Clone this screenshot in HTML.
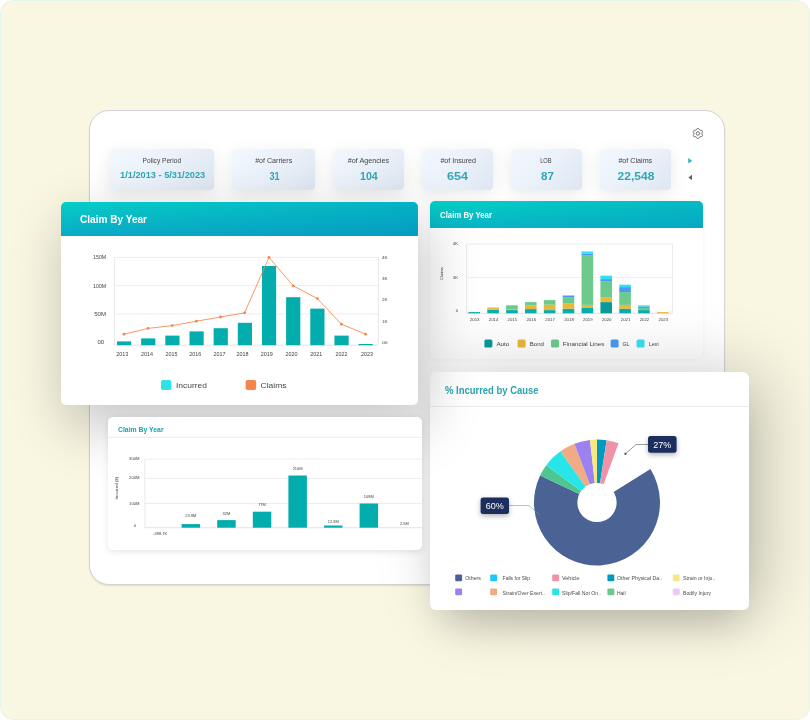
<!DOCTYPE html>
<html lang="en"><head><meta charset="utf-8"><title>Claims dashboard</title>
<style>
html,body{margin:0;padding:0}
body{width:810px;height:720px;background:#fff;overflow:hidden;position:relative;font-family:"Liberation Sans", sans-serif}
.bg{position:absolute;left:0;top:0;width:808px;height:718px;border:1px solid #e4f5ee;border-radius:13px;background:#f9f6e2}
.panel{position:absolute;left:89px;top:110px;width:633.6px;height:472.6px;border:1px solid #d3d3d5;box-shadow:0 1px 1.5px rgba(0,0,0,.10);border-radius:20px;background:#fff;overflow:hidden}
.in{position:absolute;left:-90px;top:-111px;width:810px;height:720px}
.s{position:absolute;left:0;top:0;overflow:visible}
.s text{font-family:"Liberation Sans", sans-serif}
.stat{position:absolute;top:149.3px;height:40.5px;border-radius:4px;background:linear-gradient(135deg,#f3f8fe 0%,#eaf1fa 50%,#dee6f2 100%);box-shadow:0 4px 16px rgba(0,0,0,.09)}
.card{position:absolute;background:#fff;overflow:hidden}
.hd{position:absolute;left:0;top:0;right:0;background:linear-gradient(to right,rgba(2,128,186,0) 0%,rgba(2,128,186,.36) 100%),linear-gradient(180deg,#05cec7 0%,#0aaac6 100%)}
#c1{left:61px;top:202px;width:357px;height:203px;border-radius:5px;box-shadow:6px 20px 56px 1px rgba(0,0,0,.235)}
#c1 .hd{height:34.2px}
#c2{left:430px;top:201.4px;width:273.4px;height:158px;border-radius:5px;box-shadow:0 0 5px rgba(0,0,0,.05)}
#c2 .hd{height:26.6px;background:linear-gradient(to right,rgba(2,128,186,0) 0%,rgba(2,128,186,.28) 100%),linear-gradient(180deg,#04d1c5 0%,#09b6c6 100%)}
#c3{left:108.4px;top:417.2px;width:313.6px;height:132.8px;border-radius:5px;box-shadow:0 1.5px 6px rgba(0,0,0,.10)}
#c4{left:430px;top:372px;width:319px;height:238px;border-radius:6px;box-shadow:16px 0 70px rgba(0,0,0,.20),2px 22px 36px -10px rgba(0,0,0,.17)}
.sh{position:absolute;border-radius:6px;background:transparent}
</style></head>
<body>
<div class="bg"></div>
<div class="panel"><div class="in">
<div class="stat" style="left:110px;width:104.0px"></div>
<div class="stat" style="left:231.6px;width:83.6px"></div>
<div class="stat" style="left:333px;width:71.0px"></div>
<div class="stat" style="left:422px;width:71.0px"></div>
<div class="stat" style="left:511px;width:71.0px"></div>
<div class="stat" style="left:600px;width:71.0px"></div>
<svg class="s" width="810" height="720" viewBox="0 0 810 720">
<text x="142.6" y="163.0" font-size="6.5" fill="#444" textLength="38.5" lengthAdjust="spacingAndGlyphs">Policy Period</text>
<text x="120.1" y="178.1" font-size="9.6" fill="#30a8b3" font-weight="700" textLength="85.1" lengthAdjust="spacingAndGlyphs">1/1/2013 - 5/31/2023</text>
<text x="255.2" y="163.0" font-size="6.5" fill="#444" textLength="37.0" lengthAdjust="spacingAndGlyphs">#of Carriers</text>
<text x="269.4" y="179.8" font-size="11.3" fill="#30a8b3" font-weight="700" textLength="10.2" lengthAdjust="spacingAndGlyphs">31</text>
<text x="347.8" y="163.0" font-size="6.5" fill="#444" textLength="41.3" lengthAdjust="spacingAndGlyphs">#of Agencies</text>
<text x="360" y="179.8" font-size="11.3" fill="#30a8b3" font-weight="700" textLength="17.8" lengthAdjust="spacingAndGlyphs">104</text>
<text x="440.4" y="163.0" font-size="6.5" fill="#444" textLength="35.6" lengthAdjust="spacingAndGlyphs">#of Insured</text>
<text x="447" y="179.8" font-size="11.3" fill="#30a8b3" font-weight="700" textLength="21" lengthAdjust="spacingAndGlyphs">654</text>
<text x="540.2" y="163.0" font-size="6.5" fill="#444" textLength="11.4" lengthAdjust="spacingAndGlyphs">LOB</text>
<text x="541.1" y="179.8" font-size="11.3" fill="#30a8b3" font-weight="700" textLength="13.0" lengthAdjust="spacingAndGlyphs">87</text>
<text x="618.4" y="163.0" font-size="6.5" fill="#444" textLength="33.8" lengthAdjust="spacingAndGlyphs">#of Claims</text>
<text x="617.6" y="179.8" font-size="11.3" fill="#30a8b3" font-weight="700" textLength="36.8" lengthAdjust="spacingAndGlyphs">22,548</text>
<polygon points="697.90,128.50 697.99,128.50 698.07,128.50 698.16,128.51 698.25,128.51 698.34,128.52 698.42,128.53 698.51,128.54 698.60,128.55 698.68,128.59 698.75,128.67 698.82,128.76 698.89,128.86 698.95,128.95 699.01,129.05 699.06,129.15 699.12,129.25 699.17,129.36 699.21,129.46 699.26,129.55 699.30,129.65 699.34,129.74 699.40,129.79 699.46,129.82 699.53,129.85 699.59,129.87 699.65,129.90 699.72,129.94 699.78,129.97 699.84,130.00 699.90,130.04 699.96,130.07 700.02,130.11 700.08,130.15 700.14,130.18 700.19,130.22 700.25,130.26 700.31,130.31 700.36,130.35 700.44,130.37 700.54,130.36 700.64,130.35 700.75,130.34 700.86,130.33 700.97,130.32 701.08,130.32 701.20,130.32 701.31,130.32 701.43,130.32 701.54,130.33 701.65,130.35 701.76,130.37 701.84,130.42 701.89,130.49 701.95,130.56 702.00,130.63 702.05,130.70 702.09,130.78 702.14,130.85 702.19,130.92 702.23,131.00 702.27,131.08 702.31,131.15 702.36,131.23 702.39,131.31 702.43,131.39 702.47,131.47 702.50,131.55 702.54,131.63 702.54,131.72 702.50,131.82 702.46,131.93 702.41,132.03 702.36,132.14 702.31,132.24 702.25,132.34 702.19,132.43 702.12,132.53 702.06,132.62 702.00,132.70 701.94,132.79 701.88,132.87 701.86,132.94 701.87,133.01 701.88,133.08 701.88,133.15 701.89,133.22 701.89,133.29 701.90,133.36 701.90,133.43 701.90,133.50 701.90,133.57 701.90,133.64 701.89,133.71 701.89,133.78 701.88,133.85 701.88,133.92 701.87,133.99 701.86,134.06 701.88,134.13 701.94,134.21 702.00,134.30 702.06,134.38 702.12,134.47 702.19,134.57 702.25,134.66 702.31,134.76 702.36,134.86 702.41,134.97 702.46,135.07 702.50,135.18 702.54,135.28 702.54,135.37 702.50,135.45 702.47,135.53 702.43,135.61 702.39,135.69 702.36,135.77 702.31,135.85 702.27,135.92 702.23,136.00 702.19,136.08 702.14,136.15 702.09,136.22 702.05,136.30 702.00,136.37 701.95,136.44 701.89,136.51 701.84,136.58 701.76,136.63 701.65,136.65 701.54,136.67 701.43,136.68 701.31,136.68 701.20,136.68 701.08,136.68 700.97,136.68 700.86,136.67 700.75,136.66 700.64,136.65 700.54,136.64 700.44,136.63 700.36,136.65 700.31,136.69 700.25,136.74 700.19,136.78 700.14,136.82 700.08,136.85 700.02,136.89 699.96,136.93 699.90,136.96 699.84,137.00 699.78,137.03 699.72,137.06 699.65,137.10 699.59,137.13 699.53,137.15 699.46,137.18 699.40,137.21 699.34,137.26 699.30,137.35 699.26,137.45 699.21,137.54 699.17,137.64 699.12,137.75 699.06,137.85 699.01,137.95 698.95,138.05 698.89,138.14 698.82,138.24 698.75,138.33 698.68,138.41 698.60,138.45 698.51,138.46 698.42,138.47 698.34,138.48 698.25,138.49 698.16,138.49 698.07,138.50 697.99,138.50 697.90,138.50 697.81,138.50 697.73,138.50 697.64,138.49 697.55,138.49 697.46,138.48 697.38,138.47 697.29,138.46 697.20,138.45 697.12,138.41 697.05,138.33 696.98,138.24 696.91,138.14 696.85,138.05 696.79,137.95 696.74,137.85 696.68,137.75 696.63,137.64 696.59,137.54 696.54,137.45 696.50,137.35 696.46,137.26 696.40,137.21 696.34,137.18 696.27,137.15 696.21,137.13 696.15,137.10 696.08,137.06 696.02,137.03 695.96,137.00 695.90,136.96 695.84,136.93 695.78,136.89 695.72,136.85 695.66,136.82 695.61,136.78 695.55,136.74 695.49,136.69 695.44,136.65 695.36,136.63 695.26,136.64 695.16,136.65 695.05,136.66 694.94,136.67 694.83,136.68 694.72,136.68 694.60,136.68 694.49,136.68 694.37,136.68 694.26,136.67 694.15,136.65 694.04,136.63 693.96,136.58 693.91,136.51 693.85,136.44 693.80,136.37 693.75,136.30 693.71,136.22 693.66,136.15 693.61,136.08 693.57,136.00 693.53,135.92 693.49,135.85 693.44,135.77 693.41,135.69 693.37,135.61 693.33,135.53 693.30,135.45 693.26,135.37 693.26,135.28 693.30,135.18 693.34,135.07 693.39,134.97 693.44,134.86 693.49,134.76 693.55,134.66 693.61,134.57 693.68,134.47 693.74,134.38 693.80,134.30 693.86,134.21 693.92,134.13 693.94,134.06 693.93,133.99 693.92,133.92 693.92,133.85 693.91,133.78 693.91,133.71 693.90,133.64 693.90,133.57 693.90,133.50 693.90,133.43 693.90,133.36 693.91,133.29 693.91,133.22 693.92,133.15 693.92,133.08 693.93,133.01 693.94,132.94 693.92,132.87 693.86,132.79 693.80,132.70 693.74,132.62 693.68,132.53 693.61,132.43 693.55,132.34 693.49,132.24 693.44,132.14 693.39,132.03 693.34,131.93 693.30,131.82 693.26,131.72 693.26,131.63 693.30,131.55 693.33,131.47 693.37,131.39 693.41,131.31 693.44,131.23 693.49,131.15 693.53,131.08 693.57,131.00 693.61,130.92 693.66,130.85 693.71,130.78 693.75,130.70 693.80,130.63 693.85,130.56 693.91,130.49 693.96,130.42 694.04,130.37 694.15,130.35 694.26,130.33 694.37,130.32 694.49,130.32 694.60,130.32 694.72,130.32 694.83,130.32 694.94,130.33 695.05,130.34 695.16,130.35 695.26,130.36 695.36,130.37 695.44,130.35 695.49,130.31 695.55,130.26 695.61,130.22 695.66,130.18 695.72,130.15 695.78,130.11 695.84,130.07 695.90,130.04 695.96,130.00 696.02,129.97 696.08,129.94 696.15,129.90 696.21,129.87 696.27,129.85 696.34,129.82 696.40,129.79 696.46,129.74 696.50,129.65 696.54,129.55 696.59,129.46 696.63,129.36 696.68,129.25 696.74,129.15 696.79,129.05 696.85,128.95 696.91,128.86 696.98,128.76 697.05,128.67 697.12,128.59 697.20,128.55 697.29,128.54 697.38,128.53 697.46,128.52 697.55,128.51 697.64,128.51 697.73,128.50 697.81,128.50" fill="none" stroke="#4a4a4a" stroke-width="0.8" stroke-linejoin="round"/>
<circle cx="697.9" cy="133.5" r="1.7" fill="none" stroke="#4a4a4a" stroke-width="0.8"/>
<polygon points="688.3,157.9 692,160.7 688.3,163.5" fill="#22b0c0"/>
<polygon points="692,174.7 688.3,177.5 692,180.3" fill="#666"/>
</svg>
</div></div>
<div class="card" id="c2"><div class="hd"></div><svg class="s" width="273.6" height="158" viewBox="430 201.4 273.6 158">
<g transform="translate(0 0.5)">
<line x1="466.6" y1="244.0" x2="672.6" y2="244.0" stroke="#e9e9e9" stroke-width="0.8"/>
<line x1="466.6" y1="277.4" x2="672.6" y2="277.4" stroke="#ececec" stroke-width="0.8"/>
<line x1="466.6" y1="244.0" x2="466.6" y2="313.2" stroke="#e4e4e4" stroke-width="0.8"/>
<line x1="672.6" y1="244.0" x2="672.6" y2="313.2" stroke="#e4e4e4" stroke-width="0.8"/>
<line x1="466.6" y1="313.2" x2="672.6" y2="313.2" stroke="#dcdcdc" stroke-width="0.8"/>
<rect x="468.40" y="312.00" width="11.60" height="1.20" fill="#06aeae"/>
<text x="469.9" y="320.5" font-size="4.4" fill="#444" textLength="9.6" lengthAdjust="spacingAndGlyphs">2013</text>
<rect x="487.26" y="309.60" width="11.60" height="3.60" fill="#06aeae"/>
<rect x="487.26" y="307.40" width="11.60" height="2.20" fill="#ecb83a"/>
<text x="488.76" y="320.5" font-size="4.4" fill="#444" textLength="9.6" lengthAdjust="spacingAndGlyphs">2014</text>
<rect x="506.12" y="310.00" width="11.60" height="3.20" fill="#06aeae"/>
<rect x="506.12" y="309.00" width="11.60" height="1.00" fill="#ecb83a"/>
<rect x="506.12" y="305.20" width="11.60" height="3.80" fill="#6ccb8c"/>
<text x="507.62" y="320.5" font-size="4.4" fill="#444" textLength="9.6" lengthAdjust="spacingAndGlyphs">2015</text>
<rect x="524.98" y="309.00" width="11.60" height="4.20" fill="#06aeae"/>
<rect x="524.98" y="305.20" width="11.60" height="3.80" fill="#ecb83a"/>
<rect x="524.98" y="302.00" width="11.60" height="3.20" fill="#6ccb8c"/>
<text x="526.48" y="320.5" font-size="4.4" fill="#444" textLength="9.6" lengthAdjust="spacingAndGlyphs">2016</text>
<rect x="543.84" y="310.00" width="11.60" height="3.20" fill="#06aeae"/>
<rect x="543.84" y="304.60" width="11.60" height="5.40" fill="#ecb83a"/>
<rect x="543.84" y="300.00" width="11.60" height="4.60" fill="#6ccb8c"/>
<text x="545.3399999999999" y="320.5" font-size="4.4" fill="#444" textLength="9.6" lengthAdjust="spacingAndGlyphs">2017</text>
<rect x="562.70" y="308.60" width="11.60" height="4.60" fill="#06aeae"/>
<rect x="562.70" y="303.00" width="11.60" height="5.60" fill="#ecb83a"/>
<rect x="562.70" y="297.00" width="11.60" height="6.00" fill="#6ccb8c"/>
<rect x="562.70" y="295.40" width="11.60" height="1.60" fill="#4a9af5"/>
<text x="564.1999999999999" y="320.5" font-size="4.4" fill="#444" textLength="9.6" lengthAdjust="spacingAndGlyphs">2018</text>
<rect x="581.56" y="307.40" width="11.60" height="5.80" fill="#06aeae"/>
<rect x="581.56" y="304.80" width="11.60" height="2.60" fill="#ecb83a"/>
<rect x="581.56" y="255.00" width="11.60" height="49.80" fill="#6ccb8c"/>
<rect x="581.56" y="253.40" width="11.60" height="1.60" fill="#4a9af5"/>
<rect x="581.56" y="251.40" width="11.60" height="2.00" fill="#2fe0f2"/>
<text x="583.06" y="320.5" font-size="4.4" fill="#444" textLength="9.6" lengthAdjust="spacingAndGlyphs">2019</text>
<rect x="600.42" y="302.00" width="11.60" height="11.20" fill="#0a9a9a"/>
<rect x="600.42" y="297.00" width="11.60" height="5.00" fill="#ecb83a"/>
<rect x="600.42" y="281.00" width="11.60" height="16.00" fill="#6ccb8c"/>
<rect x="600.42" y="279.00" width="11.60" height="2.00" fill="#4a9af5"/>
<rect x="600.42" y="275.60" width="11.60" height="3.40" fill="#2fe0f2"/>
<text x="601.92" y="320.5" font-size="4.4" fill="#444" textLength="9.6" lengthAdjust="spacingAndGlyphs">2020</text>
<rect x="619.28" y="308.60" width="11.60" height="4.60" fill="#06aeae"/>
<rect x="619.28" y="304.80" width="11.60" height="3.80" fill="#ecb83a"/>
<rect x="619.28" y="292.00" width="11.60" height="12.80" fill="#6ccb8c"/>
<rect x="619.28" y="287.00" width="11.60" height="5.00" fill="#4a9af5"/>
<rect x="619.28" y="284.60" width="11.60" height="2.40" fill="#2fe0f2"/>
<text x="620.78" y="320.5" font-size="4.4" fill="#444" textLength="9.6" lengthAdjust="spacingAndGlyphs">2021</text>
<rect x="638.14" y="310.00" width="11.60" height="3.20" fill="#06aeae"/>
<rect x="638.14" y="308.00" width="11.60" height="2.00" fill="#6ccb8c"/>
<rect x="638.14" y="306.60" width="11.60" height="1.40" fill="#4a9af5"/>
<rect x="638.14" y="305.20" width="11.60" height="1.40" fill="#2fe0f2"/>
<text x="639.64" y="320.5" font-size="4.4" fill="#444" textLength="9.6" lengthAdjust="spacingAndGlyphs">2022</text>
<rect x="657.00" y="312.00" width="11.60" height="1.20" fill="#ecb83a"/>
<text x="658.5" y="320.5" font-size="4.4" fill="#444" textLength="9.6" lengthAdjust="spacingAndGlyphs">2023</text>
<text x="458" y="245.2" font-size="4.2" fill="#444" text-anchor="end">4K</text>
<text x="458" y="278.6" font-size="4.2" fill="#444" text-anchor="end">3K</text>
<text x="458" y="311.8" font-size="4.2" fill="#444" text-anchor="end">0</text>
<text x="0" y="0" font-size="4.2" fill="#444" text-anchor="middle" transform="translate(443.4 273.4) rotate(-90)">Claims</text>
</g>
<rect x="484.40" y="340.00" width="8.00" height="8.00" fill="#0a9a9a" rx="1.5"/>
<text x="496.4" y="346.0" font-size="6.0" fill="#444" textLength="13.0" lengthAdjust="spacingAndGlyphs">Auto</text>
<rect x="517.60" y="340.00" width="8.00" height="8.00" fill="#ecb83a" rx="1.5"/>
<text x="529.8" y="346.0" font-size="6.0" fill="#444" textLength="14.2" lengthAdjust="spacingAndGlyphs">Bond</text>
<rect x="551.00" y="340.00" width="8.00" height="8.00" fill="#6ccb8c" rx="1.5"/>
<text x="562.8" y="346.0" font-size="6.0" fill="#444" textLength="41.6" lengthAdjust="spacingAndGlyphs">Financial Lines</text>
<rect x="610.60" y="340.00" width="8.00" height="8.00" fill="#4a9af5" rx="1.5"/>
<text x="622.4" y="346.0" font-size="6.0" fill="#444" textLength="7.0" lengthAdjust="spacingAndGlyphs">GL</text>
<rect x="636.60" y="340.00" width="8.00" height="8.00" fill="#3de0f0" rx="1.5"/>
<text x="649" y="346.0" font-size="6.0" fill="#444" textLength="9.6" lengthAdjust="spacingAndGlyphs">Lexi</text>
<text x="440" y="218.3" font-size="8.2" fill="#fff" font-weight="700" textLength="52" lengthAdjust="spacingAndGlyphs">Claim By Year</text>
</svg></div>
<div class="card" id="c4"><svg width="0" height="0" style="position:absolute"><defs><filter id="bs" x="-40%" y="-60%" width="180%" height="260%"><feDropShadow dx="0" dy="2" stdDeviation="2.4" flood-color="#000" flood-opacity=".3"/></filter></defs></svg><svg class="s" width="319" height="238" viewBox="430 372 319 238">
<line x1="430" y1="406.4" x2="749" y2="406.4" stroke="#e6e6e6" stroke-width="0.8"/>
<text x="445" y="393.8" font-size="10.0" fill="#2aa5b0" font-weight="700" textLength="93.6" lengthAdjust="spacingAndGlyphs">% Incurred by Cause</text>
<path d="M650.43 469.12A63.0 63.0 0 1 1 540.09 475.48L579.29 494.09A19.6 19.6 0 1 0 613.62 492.11Z" fill="#4a6394"/>
<path d="M540.09 475.48A63.0 63.0 0 0 1 546.23 465.20L581.20 490.90A19.6 19.6 0 0 0 579.29 494.09Z" fill="#4ec690"/>
<path d="M546.23 465.20A63.0 63.0 0 0 1 560.33 451.27L585.59 486.56A19.6 19.6 0 0 0 581.20 490.90Z" fill="#27e5e8"/>
<path d="M560.33 451.27A63.0 63.0 0 0 1 574.32 443.72L589.94 484.21A19.6 19.6 0 0 0 585.59 486.56Z" fill="#f0ab85"/>
<path d="M574.32 443.72A63.0 63.0 0 0 1 589.98 439.89L594.82 483.02A19.6 19.6 0 0 0 589.94 484.21Z" fill="#9b82f0"/>
<path d="M589.98 439.89A63.0 63.0 0 0 1 597.00 439.50L597.00 482.90A19.6 19.6 0 0 0 594.82 483.02Z" fill="#f7e780"/>
<path d="M597.00 439.50A63.0 63.0 0 0 1 606.64 440.24L600.00 483.13A19.6 19.6 0 0 0 597.00 482.90Z" fill="#0099c0"/>
<path d="M606.64 440.24A63.0 63.0 0 0 1 618.55 443.30L603.70 484.08A19.6 19.6 0 0 0 600.00 483.13Z" fill="#f092a8"/>
<polyline points="625.4,453.8 636,444.5 648,444.5" fill="none" stroke="#555" stroke-width="0.6"/>
<circle cx="625.4" cy="453.8" r="1.1" fill="#444"/>
<polyline points="509,505.5 529,505.5 540,515.4" fill="none" stroke="#888" stroke-width="0.55"/>
<g filter="url(#bs)"><rect x="648.00" y="436.00" width="28.60" height="16.80" fill="#1c2f5d" rx="2.5"/><rect x="480.60" y="497.60" width="28.40" height="16.40" fill="#1c2f5d" rx="2.5"/></g>
<text x="662.3" y="447.6" font-size="9.0" fill="#fff" text-anchor="middle">27%</text>
<text x="494.8" y="509.0" font-size="9.0" fill="#fff" text-anchor="middle">60%</text>
<rect x="455.20" y="574.40" width="6.90" height="6.90" fill="#4a6394" rx="1.2"/>
<text x="465.2" y="580.1" font-size="4.9" fill="#4a4a4a" textLength="15.8" lengthAdjust="spacingAndGlyphs">Others</text>
<rect x="490.20" y="574.40" width="6.90" height="6.90" fill="#1ec8ff" rx="1.2"/>
<text x="502.6" y="580.1" font-size="4.9" fill="#4a4a4a" textLength="27.4" lengthAdjust="spacingAndGlyphs">Falls for Slip</text>
<rect x="552.20" y="574.40" width="6.90" height="6.90" fill="#f092a8" rx="1.2"/>
<text x="562" y="580.1" font-size="4.9" fill="#4a4a4a" textLength="17.6" lengthAdjust="spacingAndGlyphs">Vehicle</text>
<rect x="607.40" y="574.40" width="6.90" height="6.90" fill="#0099c0" rx="1.2"/>
<text x="617" y="580.1" font-size="4.9" fill="#4a4a4a" textLength="45" lengthAdjust="spacingAndGlyphs">Other Physical Da..</text>
<rect x="672.80" y="574.40" width="6.90" height="6.90" fill="#f7e780" rx="1.2"/>
<text x="683" y="580.1" font-size="4.9" fill="#4a4a4a" textLength="32.4" lengthAdjust="spacingAndGlyphs">Strain or Inju..</text>
<rect x="455.20" y="588.40" width="6.90" height="6.90" fill="#9b82f0" rx="1.2"/>
<rect x="490.20" y="588.40" width="6.90" height="6.90" fill="#f0ab85" rx="1.2"/>
<text x="502.6" y="594.5" font-size="4.9" fill="#4a4a4a" textLength="42.4" lengthAdjust="spacingAndGlyphs">Strain/Over Exert..</text>
<rect x="552.20" y="588.40" width="6.90" height="6.90" fill="#27e5e8" rx="1.2"/>
<text x="562" y="594.5" font-size="4.9" fill="#4a4a4a" textLength="39" lengthAdjust="spacingAndGlyphs">Slip/Fall Not On..</text>
<rect x="607.40" y="588.40" width="6.90" height="6.90" fill="#6cc98c" rx="1.2"/>
<text x="617" y="594.5" font-size="4.9" fill="#4a4a4a" textLength="8.6" lengthAdjust="spacingAndGlyphs">Hail</text>
<rect x="672.80" y="588.40" width="6.90" height="6.90" fill="#efc8f5" rx="1.2"/>
<text x="683" y="594.5" font-size="4.9" fill="#4a4a4a" textLength="28" lengthAdjust="spacingAndGlyphs">Bodily Injury</text>
</svg></div>
<div class="card" id="c1"><div class="hd"></div><svg class="s" width="357" height="203" viewBox="61 202 357 203">
<line x1="114.4" y1="257.4" x2="378.4" y2="257.4" stroke="#e9e9e9" stroke-width="0.8"/>
<line x1="114.4" y1="285.6" x2="378.4" y2="285.6" stroke="#e9e9e9" stroke-width="0.8"/>
<line x1="114.4" y1="314.0" x2="378.4" y2="314.0" stroke="#e9e9e9" stroke-width="0.8"/>
<line x1="114.4" y1="257.4" x2="114.4" y2="345.2" stroke="#e4e4e4" stroke-width="0.8"/>
<line x1="378.4" y1="257.4" x2="378.4" y2="345.2" stroke="#e4e4e4" stroke-width="0.8"/>
<line x1="114.4" y1="345.2" x2="378.4" y2="345.2" stroke="#dcdcdc" stroke-width="0.8"/>
<rect x="117.00" y="341.40" width="14.20" height="3.80" fill="#04adad"/>
<rect x="141.16" y="338.40" width="14.20" height="6.80" fill="#04adad"/>
<rect x="165.32" y="335.60" width="14.20" height="9.60" fill="#04adad"/>
<rect x="189.48" y="331.40" width="14.20" height="13.80" fill="#04adad"/>
<rect x="213.64" y="328.20" width="14.20" height="17.00" fill="#04adad"/>
<rect x="237.80" y="322.80" width="14.20" height="22.40" fill="#04adad"/>
<rect x="261.96" y="266.00" width="14.20" height="79.20" fill="#04adad"/>
<rect x="286.12" y="297.20" width="14.20" height="48.00" fill="#04adad"/>
<rect x="310.28" y="308.60" width="14.20" height="36.60" fill="#04adad"/>
<rect x="334.44" y="335.60" width="14.20" height="9.60" fill="#04adad"/>
<rect x="358.60" y="344.00" width="14.20" height="1.20" fill="#04adad"/>
<polyline points="124,334.2 148,328.4 172.2,325.6 196.4,321.2 220.6,317 244.6,312.8 269,257.4 293.2,285.8 317.4,298.6 341.4,324.2 365.6,334.2" fill="none" stroke="#f5854a" stroke-width="0.85"/>
<circle cx="124" cy="334.2" r="1.4" fill="#f5854a"/>
<circle cx="148" cy="328.4" r="1.4" fill="#f5854a"/>
<circle cx="172.2" cy="325.6" r="1.4" fill="#f5854a"/>
<circle cx="196.4" cy="321.2" r="1.4" fill="#f5854a"/>
<circle cx="220.6" cy="317" r="1.4" fill="#f5854a"/>
<circle cx="244.6" cy="312.8" r="1.4" fill="#f5854a"/>
<circle cx="269" cy="257.4" r="1.4" fill="#f5854a"/>
<circle cx="293.2" cy="285.8" r="1.4" fill="#f5854a"/>
<circle cx="317.4" cy="298.6" r="1.4" fill="#f5854a"/>
<circle cx="341.4" cy="324.2" r="1.4" fill="#f5854a"/>
<circle cx="365.6" cy="334.2" r="1.4" fill="#f5854a"/>
<text x="93.1" y="259.29999999999995" font-size="5.4" fill="#444" textLength="13.1" lengthAdjust="spacingAndGlyphs">150M</text>
<text x="93.1" y="287.5" font-size="5.4" fill="#444" textLength="13.1" lengthAdjust="spacingAndGlyphs">100M</text>
<text x="94.2" y="315.9" font-size="5.4" fill="#444" textLength="12.0" lengthAdjust="spacingAndGlyphs">50M</text>
<text x="97.5" y="344.1" font-size="5.4" fill="#444" textLength="6.7" lengthAdjust="spacingAndGlyphs">00</text>
<text x="382" y="258.7" font-size="3.6" fill="#444" textLength="5.6" lengthAdjust="spacingAndGlyphs">4K</text>
<text x="382" y="279.90000000000003" font-size="3.6" fill="#444" textLength="5.6" lengthAdjust="spacingAndGlyphs">3K</text>
<text x="382" y="301.3" font-size="3.6" fill="#444" textLength="5.6" lengthAdjust="spacingAndGlyphs">2K</text>
<text x="382" y="322.7" font-size="3.6" fill="#444" textLength="5.6" lengthAdjust="spacingAndGlyphs">1K</text>
<text x="382" y="343.90000000000003" font-size="3.6" fill="#444" textLength="5.6" lengthAdjust="spacingAndGlyphs">00</text>
<text x="116.3" y="355.8" font-size="5.4" fill="#444" textLength="12.0" lengthAdjust="spacingAndGlyphs">2013</text>
<text x="141.0" y="355.8" font-size="5.4" fill="#444" textLength="12.0" lengthAdjust="spacingAndGlyphs">2014</text>
<text x="165.4" y="355.8" font-size="5.4" fill="#444" textLength="12.0" lengthAdjust="spacingAndGlyphs">2015</text>
<text x="189.2" y="355.8" font-size="5.4" fill="#444" textLength="12.0" lengthAdjust="spacingAndGlyphs">2016</text>
<text x="213.6" y="355.8" font-size="5.4" fill="#444" textLength="12.0" lengthAdjust="spacingAndGlyphs">2017</text>
<text x="236.5" y="355.8" font-size="5.4" fill="#444" textLength="12.0" lengthAdjust="spacingAndGlyphs">2018</text>
<text x="260.7" y="355.8" font-size="5.4" fill="#444" textLength="12.0" lengthAdjust="spacingAndGlyphs">2019</text>
<text x="285.5" y="355.8" font-size="5.4" fill="#444" textLength="12.0" lengthAdjust="spacingAndGlyphs">2020</text>
<text x="310.3" y="355.8" font-size="5.4" fill="#444" textLength="12.0" lengthAdjust="spacingAndGlyphs">2021</text>
<text x="335.5" y="355.8" font-size="5.4" fill="#444" textLength="12.0" lengthAdjust="spacingAndGlyphs">2022</text>
<text x="361.0" y="355.8" font-size="5.4" fill="#444" textLength="12.0" lengthAdjust="spacingAndGlyphs">2023</text>
<rect x="161.00" y="380.00" width="10.40" height="10.00" fill="#2ee3e8" rx="2"/>
<text x="176" y="387.6" font-size="7.7" fill="#444" textLength="31" lengthAdjust="spacingAndGlyphs">Incurred</text>
<rect x="245.60" y="380.00" width="10.60" height="10.00" fill="#f5854a" rx="2"/>
<text x="260.6" y="387.6" font-size="7.7" fill="#444" textLength="25.8" lengthAdjust="spacingAndGlyphs">Claims</text>
<text x="80" y="222.7" font-size="10.3" fill="#fff" font-weight="700" textLength="67" lengthAdjust="spacingAndGlyphs">Claim By Year</text>
</svg></div>
<div class="card" id="c3"><svg class="s" width="313.6" height="132.8" viewBox="108.4 417.2 313.6 132.8">
<g transform="translate(0 0.3)">
<line x1="145.1" y1="459.0" x2="430" y2="459.0" stroke="#e9e9e9" stroke-width="0.8"/>
<line x1="145.1" y1="478.3" x2="430" y2="478.3" stroke="#e9e9e9" stroke-width="0.8"/>
<line x1="145.1" y1="503.4" x2="430" y2="503.4" stroke="#e9e9e9" stroke-width="0.8"/>
<line x1="145.1" y1="459" x2="145.4" y2="527.6" stroke="#e4e4e4" stroke-width="0.8"/>
<line x1="145.1" y1="527.6" x2="430" y2="527.6" stroke="#dcdcdc" stroke-width="0.8"/>
<line x1="108" y1="437.2" x2="430" y2="437.2" stroke="#e6e6e6" stroke-width="0.8"/>
<text x="160.65" y="534.6" font-size="4.0" fill="#444" text-anchor="middle">-398.7K</text>
<rect x="182.00" y="524.00" width="18.50" height="3.60" fill="#04adad"/>
<text x="191.25" y="516.8" font-size="4.0" fill="#444" text-anchor="middle">23.9M</text>
<rect x="217.60" y="520.00" width="18.50" height="7.60" fill="#04adad"/>
<text x="226.85000000000002" y="514.8" font-size="4.0" fill="#444" text-anchor="middle">32M</text>
<rect x="253.20" y="511.60" width="18.50" height="16.00" fill="#04adad"/>
<text x="262.45000000000005" y="505.59999999999997" font-size="4.0" fill="#444" text-anchor="middle">77M</text>
<rect x="288.80" y="475.40" width="18.50" height="52.20" fill="#04adad"/>
<text x="298.05" y="470.4" font-size="4.0" fill="#444" text-anchor="middle">210M</text>
<rect x="324.40" y="525.40" width="18.50" height="2.20" fill="#04adad"/>
<text x="333.65" y="523.0" font-size="4.0" fill="#444" text-anchor="middle">12.8M</text>
<rect x="360.00" y="503.40" width="18.50" height="24.20" fill="#04adad"/>
<text x="369.25" y="497.59999999999997" font-size="4.0" fill="#444" text-anchor="middle">108M</text>
<text x="404.85" y="524.9" font-size="4.0" fill="#444" text-anchor="middle">2.5M</text>
<text x="140" y="459.7" font-size="4.2" fill="#444" text-anchor="end">300M</text>
<text x="140" y="479.1" font-size="4.2" fill="#444" text-anchor="end">200M</text>
<text x="140" y="504.5" font-size="4.2" fill="#444" text-anchor="end">100M</text>
<text x="136.4" y="526.5" font-size="4.2" fill="#444" text-anchor="end">0</text>
<text x="0" y="0" font-size="4.4" fill="#444" text-anchor="middle" transform="translate(118.2 488) rotate(-90)">Incurred ($)</text>
<text x="118.4" y="431.7" font-size="6.9" fill="#12a5af" font-weight="700" textLength="45.6" lengthAdjust="spacingAndGlyphs">Claim By Year</text>
</g>
</svg></div>
</body></html>
